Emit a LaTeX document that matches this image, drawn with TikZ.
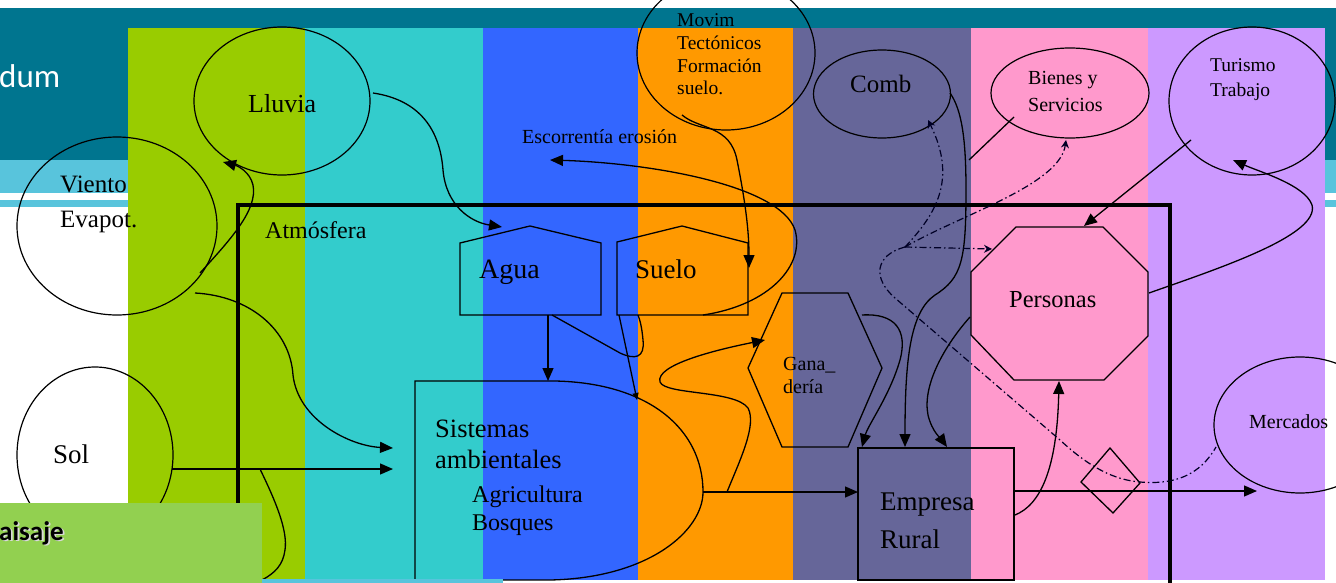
\documentclass[tikz,border=0pt]{standalone}
\usepackage{fontspec}
\setmainfont{Liberation Serif}
\newfontfamily\calib{Carlito}
\usetikzlibrary{arrows.meta,shapes.geometric}
\definecolor{tealdark}{RGB}{0,117,143}
\definecolor{tealband}{RGB}{88,196,220}
\definecolor{cgreen}{RGB}{153,204,0}
\definecolor{ccyan}{RGB}{51,204,204}
\definecolor{cblue}{RGB}{51,102,255}
\definecolor{corange}{RGB}{255,153,0}
\definecolor{cslate}{RGB}{102,102,153}
\definecolor{cpink}{RGB}{255,153,204}
\definecolor{clav}{RGB}{204,153,255}
\definecolor{boxgreen}{RGB}{146,208,80}
\begin{document}
\begin{tikzpicture}[x=1pt,y=-1pt,
  ln/.style={line width=1.3pt,black},
  arr/.style={ln,-{Triangle[length=13pt,width=11pt]}},
  sarr/.style={ln,-{Triangle[length=7pt,width=6pt]}},
  dd/.style={line width=1.2pt,black!85!blue,dash pattern=on 7pt off 3pt on 1.5pt off 3pt},
  ddarr/.style={dd,-{Stealth[length=8pt,width=8pt]}},
  ell/.style={draw,ellipse,line width=1.2pt,inner sep=0pt},
  lbl/.style={anchor=base west,inner sep=0pt,font=\fontsize{#1pt}{#1pt}\selectfont},
  col/.style={fill=#1,draw=none}]
\useasboundingbox (0,0) rectangle (1336,583);
\begin{scope}
\clip (0,0) rectangle (1336,583);
% background bands
\fill[white] (0,0) rectangle (1336,583);
\fill[tealdark] (0,8.5) rectangle (1336,160);
\fill[tealband] (0,160) rectangle (1336,193);
\fill[tealband] (0,200) rectangle (1336,207);
\node[lbl=33,text=white,font=\calib\fontsize{33pt}{33pt}\selectfont] (dum) at (-1,88) {dum};
% columns
\fill[col=cgreen]  (128,28) rectangle (305,580);
\fill[col=ccyan]   (305,28) rectangle (483,580);
\fill[col=cblue]   (483,28) rectangle (638,580);
\fill[col=corange] (638,28) rectangle (793,580);
\fill[col=cslate]  (793,28) rectangle (971,580);
\fill[col=cpink]   (971,28) rectangle (1148,580);
\fill[col=clav]    (1148,28) rectangle (1325,580);
% frame
\draw[line width=4pt] (238,590) -- (238,205) -- (1170,205) -- (1170,590);
% ellipses
\node[ell,minimum width=176pt,minimum height=148pt] (lluvia) at (282,101) {};
\node[ell,minimum width=200pt,minimum height=178pt] (viento) at (117,226) {};
\node[ell,minimum width=156pt,minimum height=176pt] (sol) at (95,455) {};
\node[ell,minimum width=178pt,minimum height=154pt] (movim) at (726,53) {};
\node[ell,minimum width=137pt,minimum height=88pt] (comb) at (882,94) {};
\node[ell,minimum width=158pt,minimum height=90pt] (bienes) at (1070,93) {};
\node[ell,minimum width=166pt,minimum height=148pt] (turismo) at (1252,101) {};
\node[ell,minimum width=172pt,minimum height=136pt] (mercados) at (1300,425) {};
% polygon shapes
\draw[ln] (460,315) -- (460,243) -- (530,226) -- (601,243) -- (601,315) -- cycle;
\draw[ln] (617,315) -- (617,242) -- (682,226) -- (748,243) -- (748,315) -- cycle;
\draw[ln] (415,580) -- (415,381) -- (555,381) .. controls (650,383) and (703,430) .. (703,492)
  .. controls (703,530) and (650,578) .. (550,580) -- cycle;
\draw[ln] (782,293) -- (848,293) -- (882,368) -- (848,447) -- (782,447) -- (748,368) -- cycle;
\draw[ln] (1016,227) -- (1103,227) -- (1148,272) -- (1148,336) -- (1104,380) -- (1014,380) -- (971,335) -- (971,272) -- cycle;
\draw[ln] (858,448) rectangle (1014,580);
\draw[ln] (1110,448) -- (1140,483) -- (1113,513) -- (1081,482) -- cycle;
% labels
\node[lbl=26] (tlluvia) at (248,113) {Lluvia};
\node[lbl=25] (tviento) at (60,192) {Viento};
\node[lbl=25] (tevapot) at (60,227) {Evapot.};
\node[lbl=24] (tatm) at (265,238) {Atmósfera};
\node[lbl=27] (tsol) at (53,463) {Sol};
\node[lbl=19.5] (tm1) at (677,27) {Movim};
\node[lbl=19.5] (tm2) at (677,50) {Tectónicos};
\node[lbl=19.5] (tm3) at (677,73) {Formación};
\node[lbl=19.5] (tm4) at (677,95) {suelo.};
\node[lbl=20] (tesc) at (522,143) {Escorrentía erosión};
\node[lbl=25] (tcomb) at (850,93) {Comb};
\node[lbl=20] (tb1) at (1028,85) {Bienes y};
\node[lbl=20] (tb2) at (1028,112) {Servicios};
\node[lbl=19.5] (tt1) at (1210,72) {Turismo};
\node[lbl=19.5] (tt2) at (1210,97) {Trabajo};
\node[lbl=28] (agua) at (479,278) {Agua};
\node[lbl=27] (suelo) at (635,278) {Suelo};
\node[lbl=20] (tg1) at (783,370) {Gana\_};
\node[lbl=20] (tg2) at (783,393) {dería};
\node[lbl=24.5] (personas) at (1009,307) {Personas};
\node[lbl=26.5] (ts1) at (435,437) {Sistemas};
\node[lbl=26.5] (ts2) at (435,468) {ambientales};
\node[lbl=24] (ts3) at (472,502) {Agricultura};
\node[lbl=24] (ts4) at (472,530) {Bosques};
\node[lbl=27] (te1) at (880,510) {Empresa};
\node[lbl=27] (te2) at (880,548) {Rural};
\node[lbl=20] (tmerc) at (1249,428) {Mercados};
% connector end points
\coordinate (lluviaE) at (373,93);
\coordinate (aguaTop) at (502,227);
\coordinate (vientoE) at (200,273);
\coordinate (lluviaS) at (223,162);
\coordinate (vientoSE) at (195,293);
\coordinate (sistW1) at (393,448);
\coordinate (solE) at (172,469);
\coordinate (sistW2) at (393,469);
\coordinate (solBr) at (260,469);
\coordinate (solBrEnd) at (262,580);
\coordinate (aguaS) at (548,315);
\coordinate (sistN) at (548,381);
\coordinate (aguaS2) at (552,315);
\coordinate (sueloS) at (638,315);
\coordinate (sueloSW) at (619,315);
\coordinate (sistNE) at (637,400);
\coordinate (movimS) at (682,115);
\coordinate (sueloNE) at (749,268);
\coordinate (sueloSE) at (703,315);
\coordinate (escEnd) at (550,160);
\coordinate (sistE) at (703,492);
\coordinate (empW) at (858,492);
\coordinate (sistBr) at (727,492);
\coordinate (ganaW) at (765,340);
\coordinate (ganaNE) at (862,315);
\coordinate (empN1) at (862,447);
\coordinate (combE) at (950,93);
\coordinate (empN2) at (905,447);
\coordinate (persW) at (970,317);
\coordinate (empN3) at (947,447);
\coordinate (bienesSW) at (1014,117);
\coordinate (bienesEnd) at (969,160);
\coordinate (turSW) at (1191,140);
\coordinate (persN) at (1084,226);
\coordinate (persE) at (1149,293);
\coordinate (turS) at (1233,160);
\coordinate (empE1) at (1015,515);
\coordinate (persS) at (1059,381);
\coordinate (empE2) at (1014,491);
\coordinate (mercW) at (1257,491);
\coordinate (hub) at (905,247);
\coordinate (combS) at (928,120);
\coordinate (persW2) at (992,249);
\coordinate (bienesS) at (1066,140);
\coordinate (diaE) at (1140,482);
\coordinate (mercSW) at (1216,447);
% solid connectors
\draw[arr] (lluviaE) .. controls (420,100) and (440,130) .. (443,170) .. controls (446,205) and (470,222) .. (aguaTop);
\draw[arr] (vientoE) .. controls (230,240) and (258,210) .. (253,185) .. controls (250,172) and (238,166) .. (lluviaS);
\draw[arr] (vientoSE) .. controls (250,296) and (290,330) .. (293,375) .. controls (298,420) and (350,446) .. (sistW1);
\draw[arr] (solE) -- (sistW2);
\draw[ln] (solBr) .. controls (275,500) and (288,530) .. (285,550) .. controls (283,565) and (275,573) .. (solBrEnd);
\draw[arr] (aguaS) -- (sistN);
\draw[ln] (aguaS2) -- (620,353) .. controls (635,360) and (645,358) .. (643,340) .. controls (642,328) and (640,320) .. (sueloS);
\draw[sarr] (sueloSW) -- (sistNE);
\draw[arr] (movimS) .. controls (700,130) and (730,125) .. (737,160) .. controls (745,200) and (749,230) .. (sueloNE);
\draw[arr] (sueloSE) .. controls (770,305) and (805,265) .. (795,230) .. controls (780,185) and (650,163) .. (escEnd);
\draw[arr] (sistE) -- (empW);
\draw[arr] (sistBr) .. controls (740,460) and (757,425) .. (748,408) .. controls (735,390) and (665,395) .. (660,382) .. controls (655,365) and (715,350) .. (ganaW);
\draw[arr] (ganaNE) .. controls (895,313) and (908,330) .. (900,360) .. controls (890,395) and (868,425) .. (empN1);
\draw[arr] (combE) .. controls (962,110) and (966,140) .. (966,190) .. controls (966,260) and (962,278) .. (935,295) .. controls (910,312) and (905,360) .. (empN2);
\draw[arr] (persW) .. controls (945,345) and (922,385) .. (928,415) .. controls (932,432) and (942,440) .. (empN3);
\draw[ln] (bienesSW) -- (bienesEnd);
\draw[arr] (turSW) -- (persN);
\draw[arr] (persE) .. controls (1220,268) and (1320,235) .. (1312,205) .. controls (1305,185) and (1260,172) .. (turS);
\draw[arr] (empE1) .. controls (1040,505) and (1057,470) .. (persS);
\draw[arr] (empE2) -- (mercW);
% dash-dot connectors
\draw[ddarr] (hub) .. controls (935,215) and (958,180) .. (combS);
\draw[ddarr] (hub) -- (persW2);
\draw[ddarr] (hub) .. controls (960,215) and (1060,185) .. (bienesS);
\draw[dd] (hub) .. controls (875,255) and (872,278) .. (895,298) -- (1060,440) .. controls (1090,468) and (1115,480) .. (diaE)
  .. controls (1175,485) and (1200,475) .. (mercSW);
% bottom-left box
\fill[tealband] (262,579) rectangle (503,583);
\fill[boxgreen] (0,503) rectangle (262,583);
\node[lbl=27,text=white!85!black,font=\calib\bfseries\fontsize{27pt}{27pt}\selectfont] (paisajeS) at (0.8,541.8) {aisaje};
\node[lbl=27,text=black,font=\calib\bfseries\fontsize{27pt}{27pt}\selectfont] (paisaje) at (-1,540) {aisaje};
\end{scope}
\end{tikzpicture}
\end{document}
